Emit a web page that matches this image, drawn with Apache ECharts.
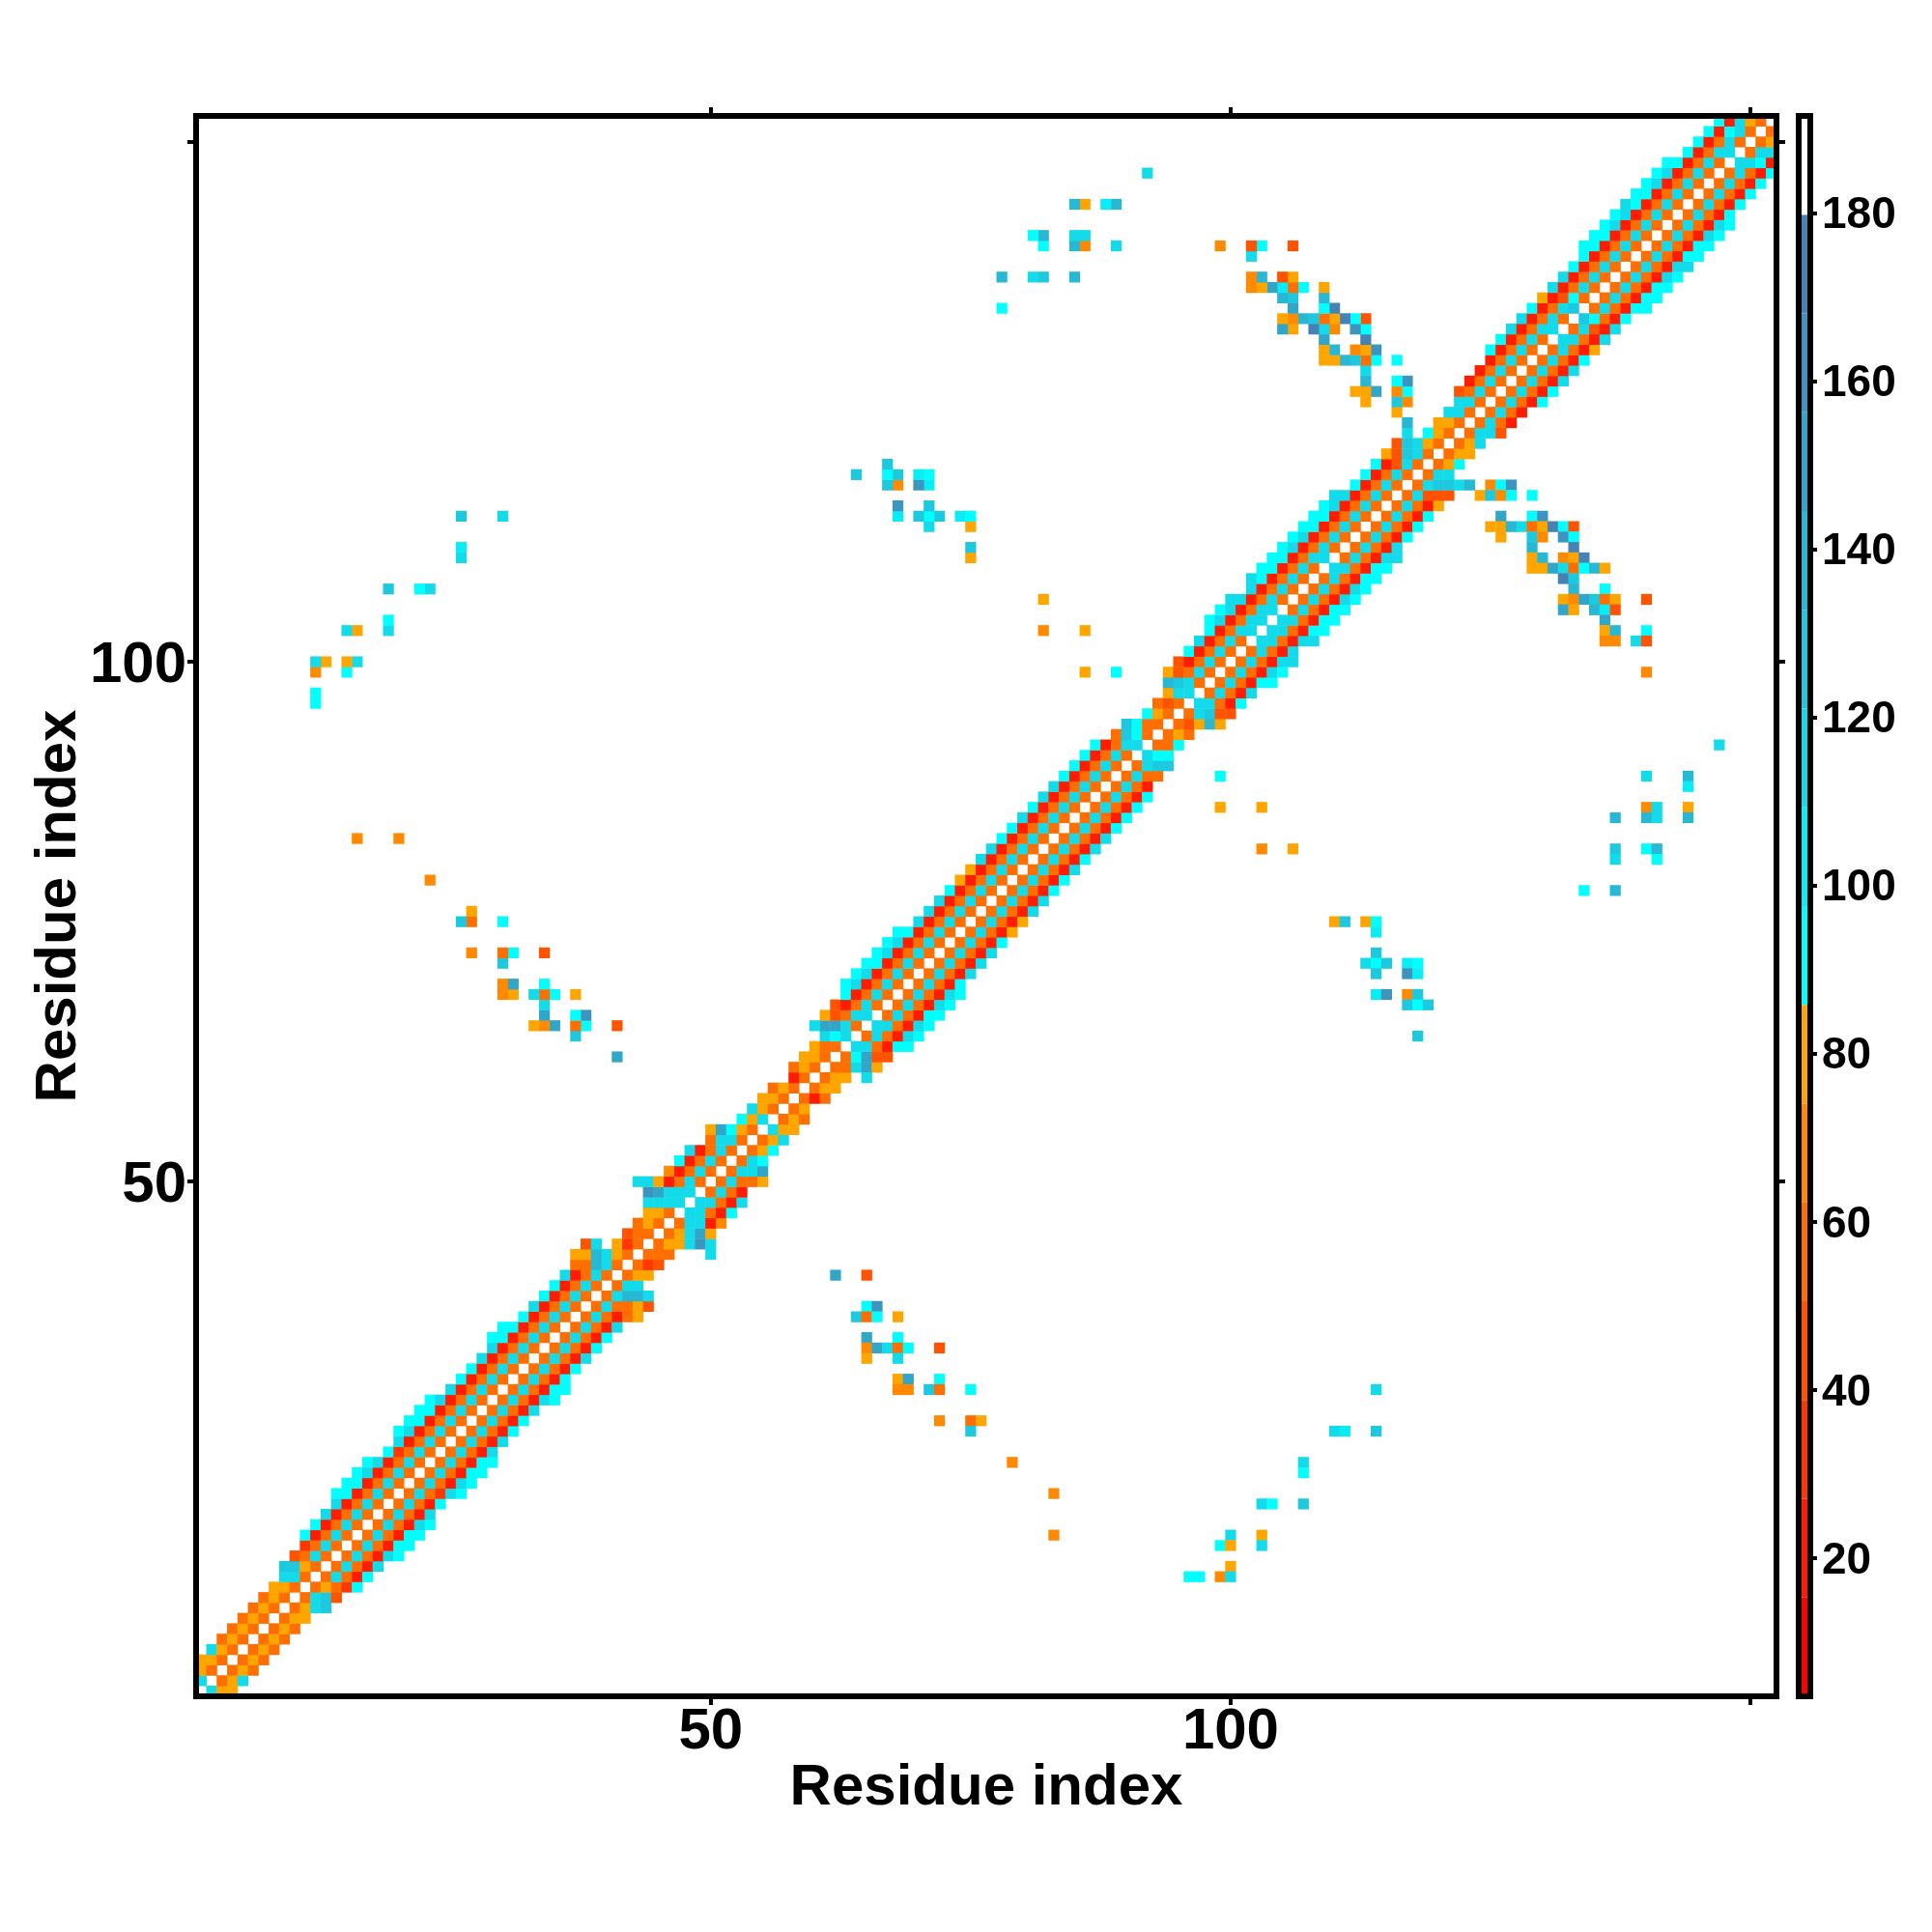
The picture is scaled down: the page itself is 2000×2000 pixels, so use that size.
<!DOCTYPE html>
<html>
<head>
<meta charset="utf-8">
<title>Residue contact map</title>
<script src="https://cdn.jsdelivr.net/npm/echarts@6/dist/echarts.min.js"></script>
<style>
  html, body { margin: 0; padding: 0; background: #fff; }
  #chart { width: 2000px; height: 2000px; }
</style>
</head>
<body>
<div id="chart"></div>
<script>
const residueCount = 152;
const xTickLabels = ["50", "100"];
const yTickLabels = ["50", "100"];
const tickResidues = [50, 100, 150];
const colorbarTicks = [20, 40, 60, 80, 100, 120, 140, 160, 180];
const diagonalValue = 186;

// 16 levels of the colour key
const levelBreaks = [3.56, 15.31, 27.06, 38.81, 50.56, 62.31, 74.06, 85.81, 97.56,
  109.31, 121.06, 132.81, 144.56, 156.31, 168.06, 179.81, 191.56];
const levelColors = ["#FF0000", "#FF1C00", "#FF3700", "#FF5300", "#FF6E00", "#FF8A00", "#FFA500",
  "#00FFFF", "#0AEDF4", "#14DBEA", "#1EC9DF", "#28B8D4", "#32A6C9", "#3C94BF", "#4682B4", "#FFFFFF"];

// Values next to the diagonal: row n holds residues n+1, n+2, ...
const nearRows = [
  [115,80,80], [56,80,115], [56,80,56], [56,80,56], [56,80,56], [56,80,56], [56,80,56], [56,80,80],
  [56,80,115,127], [56,115,127,45], [56,80,56,33,92], [56,115,56,21,92], [56,115,56,21,115],
  [56,115,56,21,115,92], [56,115,56,21,92,92], [56,115,56,21,92,92], [56,115,56,21,115,92],
  [56,115,56,21,115], [56,115,56,21,92], [56,115,56,33,115,92], [56,115,56,21,115,92],
  [56,115,56,21,92,92], [56,115,56,21,92,92], [56,115,56,21,115], [56,115,56,21,115],
  [56,115,56,21,92], [56,115,56,21,92], [56,115,56,21,115], [56,115,56,21,115,92],
  [56,115,56,21,92,92], [56,115,56,21,92], [56,115,56,21,92], [56,115,56,21,115],
  [56,115,56,21,92], [56,115,56,21,92], [56,115,56,21,115], [56,115,56,21,56,80],
  [56,115,56,56,80,45], [56,115,139,139,115], [56,115,115], [56,80,80], [56,33,45],
  [56,56,56], [56,80,80,115,162,115], [56,80,115,150,80], [56,115,115,21,68], [115,115,56,21,92],
  [115,115,56,21,115], [56,115,56,21], [56,115,56,56,80], [56,115,115,150], [56,115,92], [56,80,92],
  [56,80,115], [115,80,80], [56,80,56], [56,80], [56,21,56], [56,80,80], [56,80,80],
  [56,56,115,150,80], [56,92,150,45,45], [115,115,56,21,92,92], [56,115,56,21,115,92],
  [115,115,56,21,115,92], [56,115,56,21,92,92], [56,115,56,21,115,92], [56,115,56,21,115,92],
  [56,115,56,21,92], [56,115,56,21,115], [56,115,56,21,115], [56,115,56,21,115], [56,115,56,21,92],
  [56,115,56,21,80], [56,115,56,21,80], [56,115,56,21,115], [56,115,56,21,115], [56,115,56,21,92],
  [56,115,56,21,92], [56,115,56,21,115], [56,115,56,21,92], [56,115,56,21,115], [56,115,56,21,115],
  [56,115,56,21,92], [56,115,56,21,92], [56,115,56,21,92], [56,115,56,21,92], [56,115,56,21],
  [56,115,56,56], [56,115,127,127], [115,92,92], [56,56,92], [56,80,56], [56,45,80,139,80],
  [56,115,127,45,45], [115,115,56,21,92], [56,115,56,21,115], [56,115,56,21,92,92],
  [56,115,56,21,115,92], [56,115,56,21,115,115], [56,115,56,21,115], [115,115,56,21,115,115],
  [115,115,56,21,92,92], [115,115,56,21,92,92], [56,115,56,21,92,92], [56,115,56,21,115,92],
  [56,115,56,21,115,92], [56,115,56,21,92,92], [115,115,56,21,92,92], [56,115,56,21,115,115],
  [56,115,56,21,115], [56,115,56,21,92], [56,115,56,21,92], [56,115,56,21,92], [56,115,56,21,80],
  [56,115,45,45,45], [56,115,127,127,115,139], [56,115,115], [56,80,92], [56,80,80], [56,80,115],
  [56,115,115,45], [56,115,56,21], [56,115,56,21], [56,115,56,21,92], [56,115,56,21,92],
  [56,115,56,21,115], [56,115,56,21,115], [56,115,56,21,92], [56,115,56,21,80], [115,115,56,21,115],
  [56,115,45,21,115], [127,92,56,21,92], [56,115,56,21,92,92], [56,115,56,21,92,92],
  [56,115,56,21,92,92], [56,115,56,21,115,92], [56,115,56,21,115,115], [56,115,56,21,92,92],
  [56,115,56,21,92,92], [56,115,56,21,115,92], [56,115,56,21,115,92], [56,115,56,21,92],
  [56,115,56,21,92], [56,115,56,21,92], [56,115,56,21,92], [56,115,56,21,92], [115,115,92,21],
  [56,115,115], [56,80], [56]
];

// Contacts away from the band: [residue a, residue b, value], a > b
const farContacts = [
  [50,43,115], [65,60,115],
  [62,41,150], [65,41,45], [65,38,92], [66,38,162], [64,37,127], [65,37,56], [66,37,92], [68,37,80],
  [65,35,150], [68,35,92], [65,34,68], [66,34,150], [67,34,115], [68,34,56], [69,34,92], [72,34,45],
  [65,33,80], [68,33,115], [68,31,80], [69,31,150], [72,31,92], [68,30,68], [69,30,68], [71,30,127],
  [72,30,56], [75,30,92], [72,27,68], [75,27,56], [76,27,80], [75,26,127], [79,23,68], [83,20,68],
  [83,16,68],
  [114,30,115], [110,26,115], [111,26,103], [114,26,127], [107,23,115], [107,22,92], [103,19,115],
  [104,19,92], [107,19,127], [100,16,115], [103,16,80], [99,15,92], [100,15,80], [103,15,115],
  [100,13,80], [96,12,92], [97,12,92], [99,12,68], [100,12,115],
  [99,89,92], [99,86,80], [103,86,80], [103,82,68], [106,82,80],
  [110,75,80], [111,75,127], [113,75,80], [114,75,92], [114,74,103], [114,72,127], [113,71,115],
  [114,71,92], [115,71,127], [117,71,103], [118,71,92], [114,70,127], [117,70,162], [118,70,103],
  [114,68,103], [115,68,162], [117,68,68], [118,68,127], [117,67,127], [118,67,92], [119,67,127],
  [118,64,127],
  [147,92,115], [140,89,115], [144,89,139], [144,88,103], [140,86,68], [141,86,115], [144,86,80],
  [137,85,139], [140,85,139], [141,85,115], [144,85,139], [137,82,127], [140,82,92], [141,82,139],
  [137,81,115], [141,81,92], [134,78,92], [137,78,139],
  [125,117,68], [126,117,92], [127,117,162], [124,116,80], [125,116,127], [126,116,68], [127,116,92],
  [129,116,92], [126,114,150], [129,114,92], [130,114,162], [125,113,80], [126,113,80], [127,113,139],
  [128,113,115], [129,113,56], [130,113,80], [131,113,174], [132,113,92], [133,113,45], [126,112,80],
  [129,112,127], [130,112,68], [132,112,162], [133,112,92], [129,111,139], [133,111,174], [129,110,80],
  [130,110,139], [132,110,68], [133,110,80], [134,110,174], [129,109,80], [130,109,80], [131,109,150],
  [132,109,115], [133,109,56], [134,109,92], [135,109,139], [136,109,80], [132,108,174], [133,108,127],
  [133,107,139], [136,107,92], [132,106,80], [133,106,68], [134,106,150], [135,106,127], [136,106,56],
  [137,106,80], [140,106,45], [132,105,150], [133,105,80], [135,105,139], [136,105,103], [137,105,45],
  [136,104,150], [136,103,80], [137,103,139], [140,103,92], [136,102,68], [137,102,68], [139,102,115],
  [140,102,45], [140,99,68]
];

const residues = [];
for (let r = 1; r <= residueCount; r++) residues.push(String(r));

// The map is symmetric, so each value is placed on both sides of the diagonal
const cells = [];
residues.forEach(function (name, r) {
  cells.push([r, r, diagonalValue]);
});
nearRows.forEach(function (row, r) {
  row.forEach(function (value, k) {
    cells.push([r + k + 1, r, value]);
    cells.push([r, r + k + 1, value]);
  });
});
farContacts.forEach(function (c) {
  cells.push([c[0] - 1, c[1] - 1, c[2]]);
  cells.push([c[1] - 1, c[0] - 1, c[2]]);
});

const levelPieces = levelColors.map(function (color, k) {
  return { gte: levelBreaks[k], lt: levelBreaks[k + 1], color: color };
});
const colorbarData = levelColors.map(function (color, k) {
  return [levelBreaks[k], levelBreaks[k + 1], k];
});

const fontName = '"Liberation Sans", Arial, sans-serif';
const axisZ = 5; // frame has to sit on top of the cells
const frameLine = { show: true, onZero: false, lineStyle: { color: "#000", width: 6, cap: "square" } };
const residueTick = {
  show: true,
  alignWithLabel: true,
  length: 9,
  lineStyle: { color: "#000", width: 4 },
  interval: function (index, value) {
    return tickResidues.indexOf(Number(value)) >= 0;
  },
};

// rich text box with top padding nudges the digits down from the tick
function nudgedText(size, nudge) {
  return {
    formatter: "{v|{value}}",
    rich: {
      v: {
        fontFamily: fontName,
        fontWeight: "bold",
        fontSize: size,
        color: "#000",
        padding: [nudge, 0, 0, 0],
      },
    },
  };
}

function residueLabel(labels, margin, nudge) {
  return Object.assign({
    show: true,
    margin: margin,
    interval: function (index, value) {
      return labels.indexOf(value) >= 0;
    },
  }, nudgedText(60, nudge));
}

function plainAxis(gridIndex, position) {
  return {
    type: "value",
    gridIndex: gridIndex,
    position: position,
    z: axisZ,
    min: 0,
    max: 1,
    axisLine: frameLine,
    axisTick: { show: false },
    axisLabel: { show: false },
    splitLine: { show: false },
  };
}

function residueAxis(position, label, extra) {
  return Object.assign({
    type: "category",
    gridIndex: 0,
    position: position,
    z: axisZ,
    data: residues,
    axisLine: frameLine,
    axisTick: residueTick,
    axisLabel: label || { show: false },
    splitLine: { show: false },
  }, extra);
}

const nameStyle = { color: "#000", fontFamily: fontName, fontWeight: "bold", fontSize: 60 };

const option = {
  animation: false,
  backgroundColor: "#fff",
  grid: [
    { left: 203, top: 120, width: 1636, height: 1636, outerBoundsMode: "none" },
    { left: 1862, top: 120, width: 12, height: 1636, outerBoundsMode: "none" },
  ],
  xAxis: [
    residueAxis("bottom", residueLabel(xTickLabels, 7, 0), {
      name: "Residue index",
      nameLocation: "middle",
      nameGap: 65,
      nameMoveOverlap: false,
      nameTextStyle: nameStyle,
    }),
    residueAxis("top"),
    plainAxis(1, "bottom"),
    plainAxis(1, "top"),
  ],
  yAxis: [
    residueAxis("left", residueLabel(yTickLabels, 10, 8), {
      name: "Residue index",
      nameLocation: "middle",
      nameGap: 112,
      nameMoveOverlap: false,
      nameTextStyle: nameStyle,
    }),
    residueAxis("right"),
    {
      type: "value",
      gridIndex: 1,
      position: "right",
      z: axisZ,
      min: levelBreaks[0],
      max: levelBreaks[levelBreaks.length - 1],
      axisLine: frameLine,
      axisTick: { show: true, length: 7, lineStyle: { color: "#000", width: 4 }, customValues: colorbarTicks },
      axisLabel: Object.assign({
        show: true,
        margin: 12,
        customValues: colorbarTicks,
      }, nudgedText(46, 6)),
      splitLine: { show: false },
    },
    Object.assign(plainAxis(1, "left"), { min: levelBreaks[0], max: levelBreaks[levelBreaks.length - 1] }),
  ],
  visualMap: {
    show: false,
    type: "piecewise",
    seriesIndex: 0,
    dimension: 2,
    pieces: levelPieces,
  },
  series: [
    {
      type: "heatmap",
      xAxisIndex: 0,
      yAxisIndex: 0,
      data: cells,
      progressive: 0,
      silent: true,
      emphasis: { disabled: true },
    },
    {
      type: "custom",
      xAxisIndex: 2,
      yAxisIndex: 2,
      data: colorbarData,
      silent: true,
      encode: { y: [0, 1] },
      renderItem: function (params, api) {
        const low = api.coord([0, api.value(0)]);
        const high = api.coord([1, api.value(1)]);
        return {
          type: "rect",
          shape: { x: low[0], y: high[1], width: high[0] - low[0], height: low[1] - high[1] },
          style: { fill: levelColors[api.value(2)] },
        };
      },
    },
  ],
};

const myChart = echarts.init(document.getElementById("chart"));
myChart.setOption(option);
</script>
</body>
</html>
